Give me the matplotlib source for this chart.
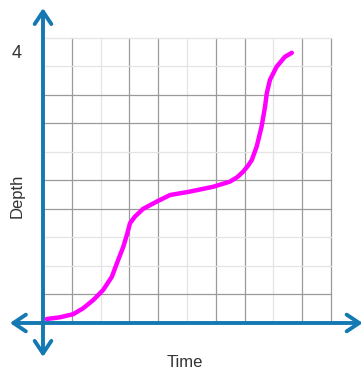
import numpy as np
import matplotlib.pyplot as plt

# depth curve (grid units)
time = [0.13, 0.59, 1.05, 1.40, 1.75, 2.09, 2.39, 2.61, 2.79, 2.93, 3.02, 3.19,
        3.47, 3.95, 4.41, 5.10, 5.91, 6.49, 6.75, 6.95, 7.12, 7.25, 7.42, 7.59,
        7.71, 7.77, 7.88, 8.11, 8.40, 8.64]
depth = [0.14, 0.20, 0.31, 0.52, 0.81, 1.16, 1.62, 2.21, 2.68, 3.15, 3.50, 3.73,
         4.00, 4.26, 4.49, 4.61, 4.78, 4.96, 5.12, 5.31, 5.52, 5.72, 6.19, 6.89,
         7.59, 8.06, 8.53, 8.99, 9.34, 9.48]

x_label = "Time"
y_label = "Depth"
max_label = "4"

axis_blue = "#1479b2"
dark_grid = "#9a9a9a"
light_grid = "#e4e4e4"

plt.rcParams['font.family'] = ['Liberation Sans', 'DejaVu Sans']

fig = plt.figure(figsize=(3.64, 3.77), dpi=100)
ax = fig.add_axes([0, 0, 1, 1])
ax.set_xlim(-1.493, 11.146)
ax.set_ylim(-1.895, 11.333)
ax.axis("off")

light_x = {2, 5, 8}
light_y = {2, 3, 6, 9, 10}
for k in range(1, 11):
    c = light_grid if k in light_x else dark_grid
    ax.plot([k, k], [0, 10], color=c, lw=0.9, zorder=1)
for k in range(1, 11):
    c = light_grid if k in light_y else dark_grid
    ax.plot([0, 10], [k, k], color=c, lw=0.9, zorder=1)

arrow = dict(arrowstyle="<->,head_length=0.45,head_width=0.3", color=axis_blue,
             lw=2.8, mutation_scale=20, shrinkA=0, shrinkB=0)
ax.annotate("", xy=(-1.15, 0), xytext=(11.1, 0), arrowprops=arrow, zorder=3)
ax.annotate("", xy=(0, -1.19), xytext=(0, 11.05), arrowprops=arrow, zorder=3)

ax.plot(time, depth, color="#ff00ff", lw=3.2, solid_capstyle="round",
        solid_joinstyle="round", zorder=4)

ax.text(-0.9, 9.47, max_label, fontsize=13, color="#333333", ha="center", va="center")
ax.text(-0.9, 4.45, y_label, fontsize=12, color="#333333", ha="center", va="center",
        rotation=90)
ax.text(4.93, -1.4, x_label, fontsize=12, color="#333333", ha="center", va="center")

fig.savefig("out.png", dpi=100)
